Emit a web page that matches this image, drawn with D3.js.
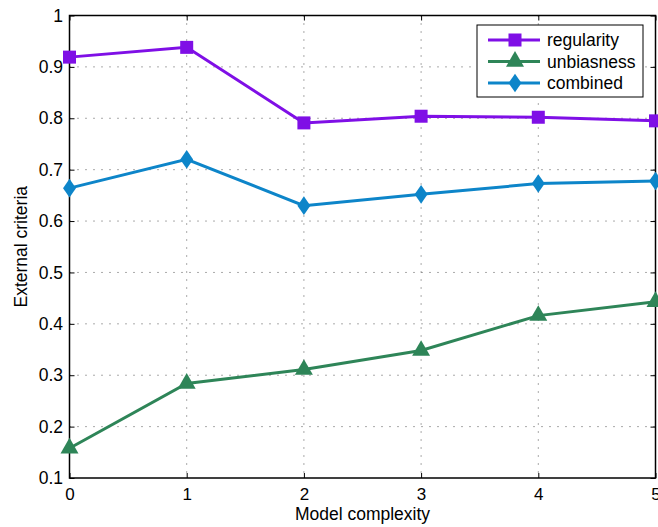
<!DOCTYPE html>
<html>
<head>
<meta charset="utf-8">
<script src="https://cdn.jsdelivr.net/npm/d3@7"></script>
<style>
  body { margin: 0; background: #fff; }
  svg text { font-family: "Liberation Sans", Arial, sans-serif; fill: #000; }
</style>
</head>
<body>
<svg id="chart" width="658" height="527"></svg>
<script>
const complexity = [0, 1, 2, 3, 4, 5];
const regularity = [0.919, 0.938, 0.791, 0.804, 0.802, 0.795];
const unbiasness = [0.158, 0.284, 0.311, 0.348, 0.416, 0.443];
const combined = [0.664, 0.72, 0.63, 0.652, 0.673, 0.678];
const yTicks = [0.1, 0.2, 0.3, 0.4, 0.5, 0.6, 0.7, 0.8, 0.9, 1];
const xTicks = [0, 1, 2, 3, 4, 5];

const series = [
  { name: 'regularity', values: regularity, color: '#7f0fe6', marker: d3.symbolSquare, size: 169 },
  { name: 'unbiasness', values: unbiasness, color: '#2e8558', marker: d3.symbolTriangle, size: 140 },
  { name: 'combined', values: combined, color: '#0d85c9', marker: d3.symbolDiamond, size: 100 }
];

const margin = { left: 69.5, top: 15.5, right: 655.5, bottom: 478 };
const svg = d3.select('#chart');

const x = d3.scaleLinear().domain([0, 5]).range([margin.left, margin.right]);
const y = d3.scaleLinear().domain([0.1, 1]).range([margin.bottom, margin.top]);

function markerTransform(s) {
  return s.marker === d3.symbolDiamond ? ' scale(1.2,1)' : '';
}

// grid
const grid = svg.append('g');
grid.selectAll('line.gx')
  .data(xTicks.slice(1, -1))
  .enter().append('line')
  .attr('x1', d => x(d)).attr('x2', d => x(d))
  .attr('y1', margin.top).attr('y2', margin.bottom)
  .attr('stroke', '#555').attr('stroke-width', 1).attr('stroke-dasharray', '1,7');
grid.selectAll('line.gy')
  .data(yTicks.slice(1, -1))
  .enter().append('line')
  .attr('y1', d => y(d)).attr('y2', d => y(d))
  .attr('x1', margin.left).attr('x2', margin.right)
  .attr('stroke', '#555').attr('stroke-width', 1).attr('stroke-dasharray', '1,7');

// axes (ticks inside)
svg.append('g')
  .attr('transform', `translate(0,${margin.bottom})`)
  .call(d3.axisBottom(x).tickValues(xTicks).tickFormat(d3.format('d')).tickSizeInner(-5).tickSizeOuter(0).tickPadding(9.5))
  .call(g => g.select('.domain').remove())
  .selectAll('text').attr('font-size', 17);
svg.append('g')
  .attr('transform', `translate(0,${margin.top})`)
  .call(d3.axisTop(x).tickValues(xTicks).tickFormat('').tickSizeInner(-5).tickSizeOuter(0))
  .call(g => g.select('.domain').remove());
svg.append('g')
  .attr('transform', `translate(${margin.left},0)`)
  .call(d3.axisLeft(y).tickValues(yTicks).tickFormat(d => d === 1 ? '1' : d3.format('.1f')(d)).tickSizeInner(-5).tickSizeOuter(0).tickPadding(6.5))
  .call(g => g.select('.domain').remove())
  .selectAll('text').attr('font-size', 17.5);
svg.append('g')
  .attr('transform', `translate(${margin.right},0)`)
  .call(d3.axisRight(y).tickValues(yTicks).tickFormat('').tickSizeInner(-5).tickSizeOuter(0))
  .call(g => g.select('.domain').remove());
svg.selectAll('.tick line').attr('stroke', '#000');

svg.append('rect')
  .attr('x', margin.left).attr('y', margin.top)
  .attr('width', margin.right - margin.left).attr('height', margin.bottom - margin.top)
  .attr('fill', 'none').attr('stroke', '#000').attr('stroke-width', 1.5);

// axis labels
svg.append('text')
  .attr('x', (margin.left + margin.right) / 2).attr('y', 520)
  .attr('text-anchor', 'middle').attr('font-size', 17.5)
  .text('Model complexity');
svg.append('text')
  .attr('transform', `translate(27,${(margin.top + margin.bottom) / 2}) rotate(-90)`)
  .attr('text-anchor', 'middle').attr('font-size', 17.5)
  .text('External criteria');

// lines + markers
const line = d3.line().x((d, i) => x(complexity[i])).y(d => y(d));
series.forEach(s => {
  svg.append('path')
    .datum(s.values)
    .attr('d', line)
    .attr('fill', 'none').attr('stroke', s.color).attr('stroke-width', 3);
  svg.selectAll(null)
    .data(s.values)
    .enter().append('path')
    .attr('d', d3.symbol().type(s.marker).size(s.size))
    .attr('transform', (d, i) => `translate(${x(complexity[i])},${y(d)})` + markerTransform(s))
    .attr('fill', s.color);
});

// legend
const lg = svg.append('g').attr('transform', 'translate(477,25)');
lg.append('rect').attr('width', 166).attr('height', 72)
  .attr('fill', '#fff').attr('stroke', '#000').attr('stroke-width', 1);
series.forEach((s, i) => {
  const yy = 15 + i * 21.5;
  lg.append('line').attr('x1', 11).attr('x2', 63).attr('y1', yy).attr('y2', yy)
    .attr('stroke', s.color).attr('stroke-width', 3);
  lg.append('path')
    .attr('d', d3.symbol().type(s.marker).size(s.size))
    .attr('transform', `translate(38,${yy})` + markerTransform(s))
    .attr('fill', s.color);
  lg.append('text').attr('x', 70).attr('y', yy + 6).attr('font-size', 17.5).text(s.name);
});
</script>
</body>
</html>
